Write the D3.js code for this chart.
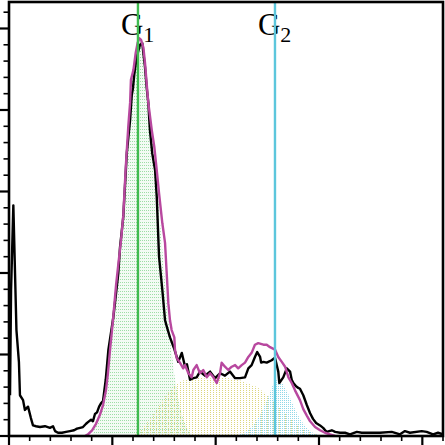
<!DOCTYPE html>
<html><head><meta charset="utf-8">
<script src="https://cdn.jsdelivr.net/npm/d3@7"></script>
<style>html,body{margin:0;padding:0;background:#fff;}svg{display:block;}</style>
</head><body>
<svg id="c" width="445" height="445"></svg>
<script>
// ---- data (channel, count) ----
const histCh = [0.5,1.0,2.1,3.6,4.8,5.3,6.8,7.7,9.2,10.6,11.6,13.1,15.0,17.4,19.8,21.3,22.3,23.7,25.6,27.6,29.5,31.5,32.9,34.4,35.8,37.3,38.2,39.7,40.6,41.6,42.6,43.6,44.5,45.5,46.8,48.1,50.5,52.9,53.7,55.3,57.0,58.6,59.4,60.0,60.6,61.8,63.4,64.5,65.0,65.8,66.6,67.4,68.2,69.3,70.7,71.5,72.6,74.2,75.5,76.5,77.9,79.8,81.9,83.6,85.2,86.1,87.6,89.2,90.8,92.4,94.8,97.3,99.7,102.1,104.5,106.9,109.4,111.8,114.2,115.8,117.4,119.0,120.1,121.5,122.0,123.1,124.7,127.1,128.7,130.3,130.8,132.7,134.4,136.0,136.8,137.6,138.9,140.0,140.8,142.4,144.1,145.7,147.1,148.6,150.5,152.0,153.7,156.2,157.8,160.2,162.6,165.0,168.3,170.7,174.7,179.5,185.2,189.2,191.6,194.0,199.7,202.1,205.2,207.6,210];
const histCount = [50,179,283,130,91,50,44,32,36,22,13,12,11,12,10,12,6,4,4,5,6,7,9,10,11,15,17,20,18,27,29,36,40,43,69,106,146,200,231,269,347,388,418,427,443,465,480,482,470,453,428,409,375,347,326,293,220,179,142,133,121,108,91,102,85,88,69,71,72,79,74,79,71,77,74,79,71,71,72,83,87,97,103,97,90,91,90,93,96,79,65,72,83,79,69,65,61,59,58,50,38,28,21,16,13,10,5,7,5,4,4,2,5,4,4,4,5,2,6,4,6,5,2,4,2];

const fitCh = [36.8,38.2,40.2,42.1,44.0,45.5,46.9,47.8,48.9,50.3,51.8,53.0,54.2,55.3,56.5,57.7,58.6,59.0,60.2,61.3,62.3,63.1,63.9,65.0,65.8,66.6,67.4,69.1,70.3,71.5,72.6,74.2,75.5,76.3,77.1,77.9,78.7,80.0,80.3,81.1,82.7,84.3,85.2,86.8,88.4,89.2,90.8,92.4,94.0,95.7,97.3,98.9,100.5,102.1,102.9,104.5,106.1,107.8,109.4,110.9,112.6,114.2,115.8,117.4,119.0,120.6,123.1,124.7,126.3,128.7,130.3,132.0,133.6,135.2,136.8,138.4,140.8,142.4,144.1,145.7,148.1,150.5,152.9,155.3,157.8];
const fitCount = [0,2,7,15,26,38,56,75,106,142,185,213,240,271,330,379,409,437,449,470,483,488,486,477,458,433,409,375,355,326,298,261,237,200,163,142,130,121,106,96,90,83,87,77,72,81,87,77,81,72,77,72,65,77,90,85,81,85,87,83,87,90,97,102,112,114,112,112,109,106,97,91,85,72,65,56,44,33,25,18,11,7,4,2,0];

const g1Ch = [40,42,44,46,48,50,52,54,56,58,60,62,63,64,66,68,70,72,74,76,78,80,82,84,86,88];
const g1Count = [0,15,26,44,72,136,189,236,314,388,447,480,486,483,459,400,351,296,234,173,118,75,44,23,10,2];

const sCh = [60,64,68,72,76,80,84,88,92,96,100,104,108,112,116,120,124,128,132,136,140,144,148,152];
const sCount = [0,8,20,35,50,62,68,70,72,70,72,72,70,68,64,60,52,42,32,22,13,6,2,0];

const g2Ch = [110,114,118,122,125,128,130,132,135,138,141,144,147,150,154];
const g2Count = [0,4,12,28,45,65,70,66,52,35,20,10,4,1,0];

const peakNames = ["G", "G"];
const peakSubs = ["1", "2"];
const peakCh = [62.4, 128.7];

// ---- layout ----
const svg = d3.select("#c");
const L = 9, R = 443, T = 2, B = 436;
const x = d3.scaleLinear().domain([0, 210]).range([L, R]);
const y = d3.scaleLinear().domain([0, 532.5]).range([B, T]);

// dotted patterns
const defs = svg.append("defs");
function pat(id, col, w, h) {
  const p = defs.append("pattern").attr("id", id).attr("patternUnits", "userSpaceOnUse")
    .attr("width", w).attr("height", h);
  p.append("rect").attr("x", 0).attr("y", 0).attr("width", 1).attr("height", 1).attr("fill", col);
}
pat("pg", "#9edda6", 2, 3);
pat("py", "#dcd67e", 3, 2);
pat("pc", "#90d8e8", 2, 2);

const area = (xs, ys) => d3.area().x((d, i) => x(xs[i])).y0(y(0)).y1((d, i) => y(ys[i]))(xs);

const clip = defs.append("clipPath").attr("id", "clp");
clip.append("rect").attr("x", L).attr("y", T).attr("width", R - L).attr("height", B - T);
const g = svg.append("g").attr("clip-path", "url(#clp)");

g.append("path").attr("d", area(g1Ch, g1Count)).attr("fill", "#f3fbf4");
g.append("path").attr("d", area(g1Ch, g1Count)).attr("fill", "url(#pg)");
g.append("path").attr("d", area(sCh, sCount)).attr("fill", "url(#py)");
g.append("path").attr("d", area(g2Ch, g2Count)).attr("fill", "url(#pc)");

const line = (xs, ys) => d3.line().x((d, i) => x(xs[i])).y((d, i) => y(ys[i]))(xs);
g.append("path").attr("d", line(histCh, histCount)).attr("fill", "none")
  .attr("stroke", "#000").attr("stroke-width", 2.4).attr("stroke-linejoin", "round");
g.append("path").attr("d", line(fitCh, fitCount)).attr("fill", "none")
  .attr("stroke", "#b8489f").attr("stroke-width", 2.4).attr("stroke-linejoin", "round");

// labels
const lineCols = ["#3fbb4f", "#5cc6dc"];
peakCh.forEach((c, i) => {
  const t = svg.append("text").attr("x", x(c) - 17).attr("y", 35)
    .attr("font-family", "'Liberation Serif', 'DejaVu Serif', serif").attr("font-size", 31).attr("fill", "#000");
  t.append("tspan").text(peakNames[i]);
  t.append("tspan").attr("font-size", 22).attr("dy", 7).text(peakSubs[i]);
});
peakCh.forEach((c, i) => {
  svg.append("line").attr("x1", x(c)).attr("x2", x(c)).attr("y1", T).attr("y2", B)
    .attr("stroke", lineCols[i]).attr("stroke-width", 2.4);
});

// axes
const yMajor = d3.range(0, 533, 100), yMinor = d3.range(0, 533, 20).filter(v => v % 100 !== 0);
const xMajor = d3.range(0, 211, 50), xMinor = d3.range(0, 211, 10).filter(v => v % 50 !== 0);
const ax = svg.append("g").attr("stroke", "#000");
ax.selectAll(".ym").data(yMajor).enter().append("line")
  .attr("x1", 0).attr("x2", L).attr("y1", d => y(d)).attr("y2", d => y(d)).attr("stroke-width", 2.2);
ax.selectAll(".yn").data(yMinor).enter().append("line")
  .attr("x1", 3.5).attr("x2", L).attr("y1", d => y(d)).attr("y2", d => y(d)).attr("stroke-width", 1.6);
ax.selectAll(".xm").data(xMajor).enter().append("line")
  .attr("x1", d => x(d)).attr("x2", d => x(d)).attr("y1", B).attr("y2", 445).attr("stroke-width", 2.2);
ax.selectAll(".xn").data(xMinor).enter().append("line")
  .attr("x1", d => x(d)).attr("x2", d => x(d)).attr("y1", B).attr("y2", 441).attr("stroke-width", 1.6);
svg.append("rect").attr("x", L).attr("y", T).attr("width", R - L).attr("height", B - T)
  .attr("fill", "none").attr("stroke", "#000").attr("stroke-width", 2.6);
</script>
</body></html>
